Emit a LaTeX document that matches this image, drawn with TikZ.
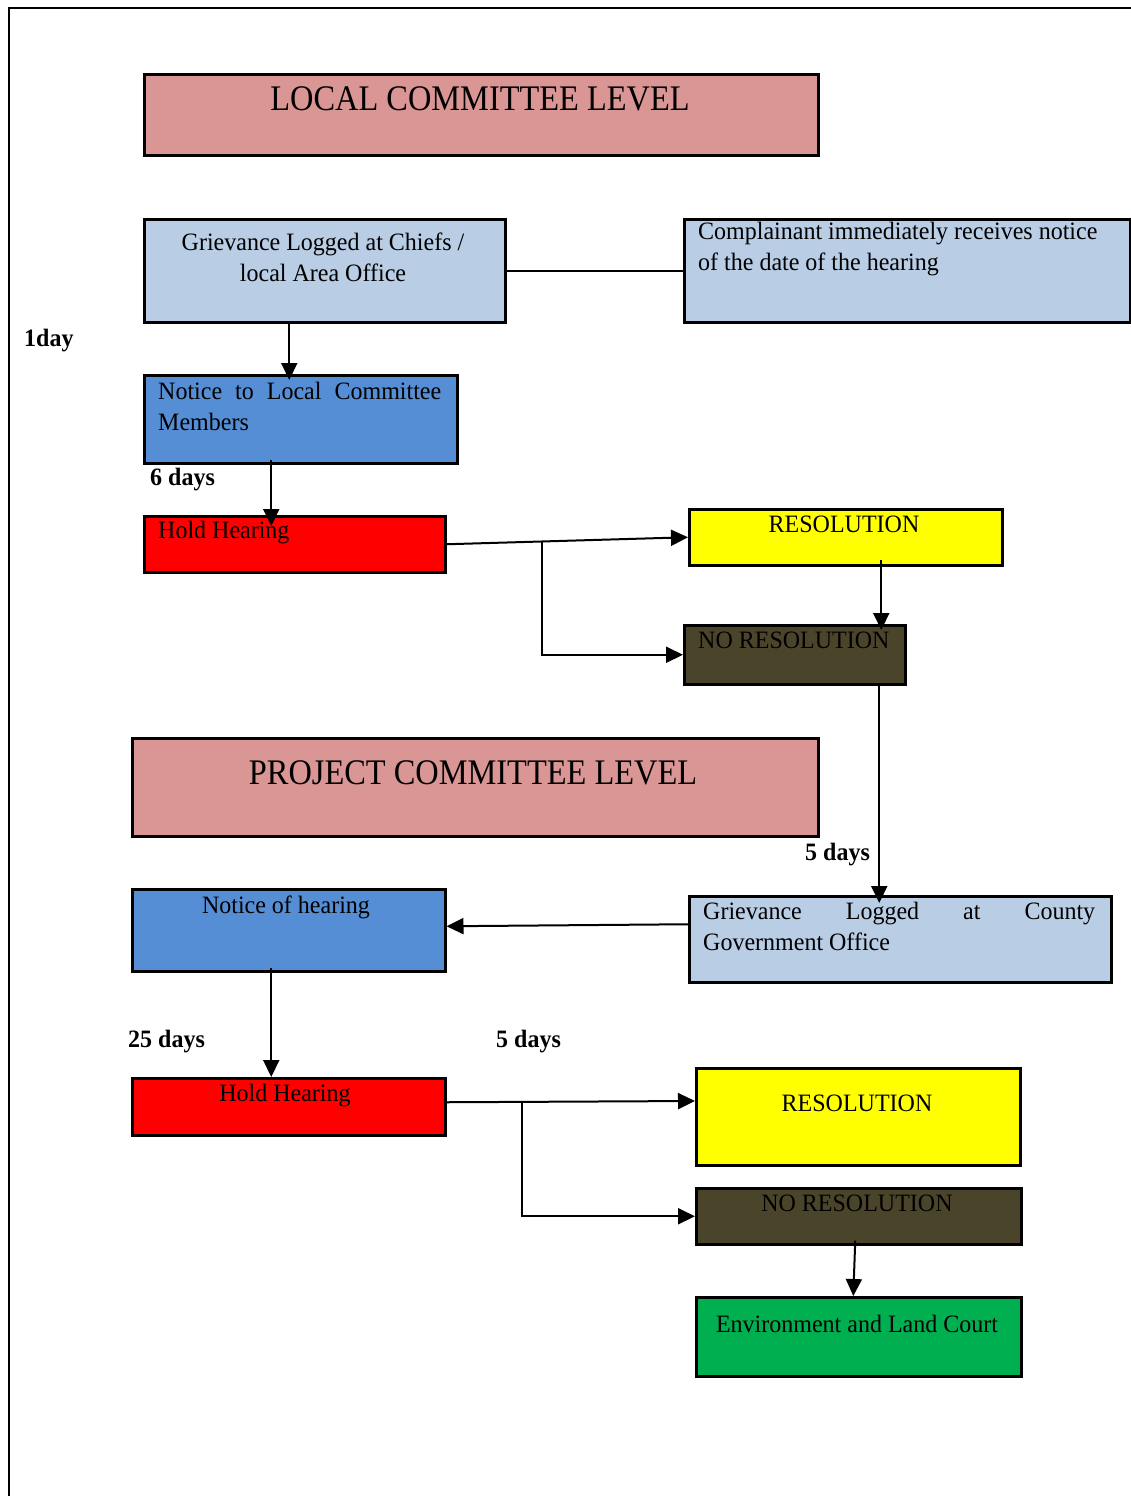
\documentclass[tikz,border=0pt]{standalone}
\usepackage{fontspec}
\setmainfont{Liberation Serif}[FakeStretch=0.96]
\newfontfamily\headfont{Liberation Serif}[FakeStretch=0.9]
\usetikzlibrary{arrows.meta}
\definecolor{pinkc}{HTML}{D99694}
\definecolor{lblue}{HTML}{B9CDE5}
\definecolor{mblue}{HTML}{558ED5}
\definecolor{redc}{HTML}{FF0000}
\definecolor{yellowc}{HTML}{FFFF00}
\definecolor{olivec}{HTML}{4A452A}
\definecolor{greenc}{HTML}{00B050}
\tikzset{box/.style={draw,line width=2.5pt,anchor=north west,inner sep=0pt},
  txt/.style={inner sep=0pt,font=\fontsize{25}{31}\selectfont},
  head/.style={inner sep=0pt,font=\headfont\fontsize{36}{44}\selectfont},
  days/.style={inner sep=0pt,font=\fontsize{25}{31}\selectfont\bfseries},
  con/.style={line width=2pt},
  arr/.style={line width=2pt,-{Triangle[length=17pt,width=16pt]}}}

\begin{document}
\begin{tikzpicture}[x=1pt,y=-1pt]
      \useasboundingbox (0,0) rectangle (1131,1496);
      \draw[line width=2pt] (9,1496) -- (9,8) -- (1131,8);

      \node[box,fill=pinkc,minimum width=674pt,minimum height=81pt] (local) at (143,73) {};
      \node[box,fill=lblue,minimum width=361pt,minimum height=103pt] (griev) at (143,218) {};
      \node[box,fill=lblue,minimum width=446pt,minimum height=103pt] (compl) at (683,218) {};
      \node[box,fill=mblue,minimum width=313pt,minimum height=88pt] (notice) at (143,374) {};
      \node[box,fill=redc,minimum width=301pt,minimum height=56pt] (hold) at (143,515) {};
      \node[box,fill=yellowc,minimum width=313pt,minimum height=56pt] (resol) at (688,508) {};
      \node[box,fill=olivec,minimum width=221pt,minimum height=59pt] (nores) at (683,624) {};
      \node[box,fill=pinkc,minimum width=686pt,minimum height=98pt] (proj) at (131,737) {};
      \node[box,fill=mblue,minimum width=313pt,minimum height=82pt] (noth) at (131,888) {};
      \node[box,fill=lblue,minimum width=422pt,minimum height=86pt] (county) at (688,895) {};
      \node[box,fill=redc,minimum width=313pt,minimum height=57pt] (holdb) at (131,1077) {};
      \node[box,fill=yellowc,minimum width=324pt,minimum height=97pt] (resolb) at (695,1067) {};
      \node[box,fill=olivec,minimum width=325pt,minimum height=56pt] (noresb) at (695,1187) {};
      \node[box,fill=greenc,minimum width=325pt,minimum height=79pt] (court) at (695,1296) {};

      \node[head,anchor=base] (local-t) at (480,110) {LOCAL COMMITTEE LEVEL};
      \node[txt,anchor=base,align=center] (griev-t) at (323,281) {Grievance Logged at Chiefs /\\local Area Office};
      \node[txt,anchor=base west,align=left] (compl-t) at (698,270) {Complainant immediately receives notice\\of the date of the hearing};
      \node[txt,anchor=base west,align=left] (notice-t) at (158,430) {\makebox[283pt][s]{Notice to Local Committee}\\Members};
      \node[txt,anchor=base west] (hold-t) at (158,538) {Hold Hearing};
      \node[txt,anchor=base] (resol-t) at (844,532) {RESOLUTION};
      \node[txt,anchor=base west] (nores-t) at (698,648) {NO RESOLUTION};
      \node[head,anchor=base] (proj-t) at (473,784) {PROJECT COMMITTEE LEVEL};
      \node[txt,anchor=base] (noth-t) at (286,913) {Notice of hearing};
      \node[txt,anchor=base west,align=left] (county-t) at (703,950) {\makebox[392pt][s]{Grievance Logged at County}\\Government Office};
      \node[txt,anchor=base] (holdb-t) at (285,1101) {Hold Hearing};
      \node[txt,anchor=base] (resolb-t) at (857,1111) {RESOLUTION};
      \node[txt,anchor=base] (noresb-t) at (857,1211) {NO RESOLUTION};
      \node[txt,anchor=base] (court-t) at (857,1332) {Environment and Land Court};

      \node[days,anchor=base west] (d1) at (24,346) {1day};
      \node[days,anchor=base west] (d6) at (150,485) {6 days};
      \node[days,anchor=base west] (d5) at (805,860) {5 days};
      \node[days,anchor=base west] (d25) at (128,1047) {25 days};
      \node[days,anchor=base west] (d5b) at (496,1047) {5 days};

      \coordinate (ja) at (542,541);
      \coordinate (jb) at (522,1101);

\draw[con] (griev.east) -- (compl.west);
\draw[arr] ([xshift=-35.5pt]griev.south) -- ([xshift=-11.5pt,yshift=-6pt]notice.north);
\draw[arr] ([xshift=-29.5pt,yshift=5pt]notice.south) -- ([xshift=-23.5pt,yshift=-11pt]hold.north);
\draw[arr] (hold.east) -- (resol.west);
\draw[arr] (ja) |- (nores.west);
\draw[arr] ([xshift=35.5pt,yshift=7pt]resol.south) -- ([xshift=86.5pt,yshift=-6pt]nores.north);
\draw[arr] ([xshift=84.5pt]nores.south) -- ([xshift=-21pt,yshift=-8pt]county.north);
\draw[arr] ([yshift=15pt]county.west) -- ([yshift=4pt]noth.east);
\draw[arr] ([xshift=-17.5pt,yshift=5pt]noth.south) -- ([xshift=-17.5pt]holdb.north);
\draw[arr] ([yshift=4.5pt]holdb.east) -- (resolb.west |- jb);
\draw[arr] (jb) |- (noresb.west);
\draw[arr] ([xshift=-3.5pt,yshift=5pt]noresb.south) -- ([xshift=-5.5pt]court.north);
    \end{tikzpicture}
\end{document}
